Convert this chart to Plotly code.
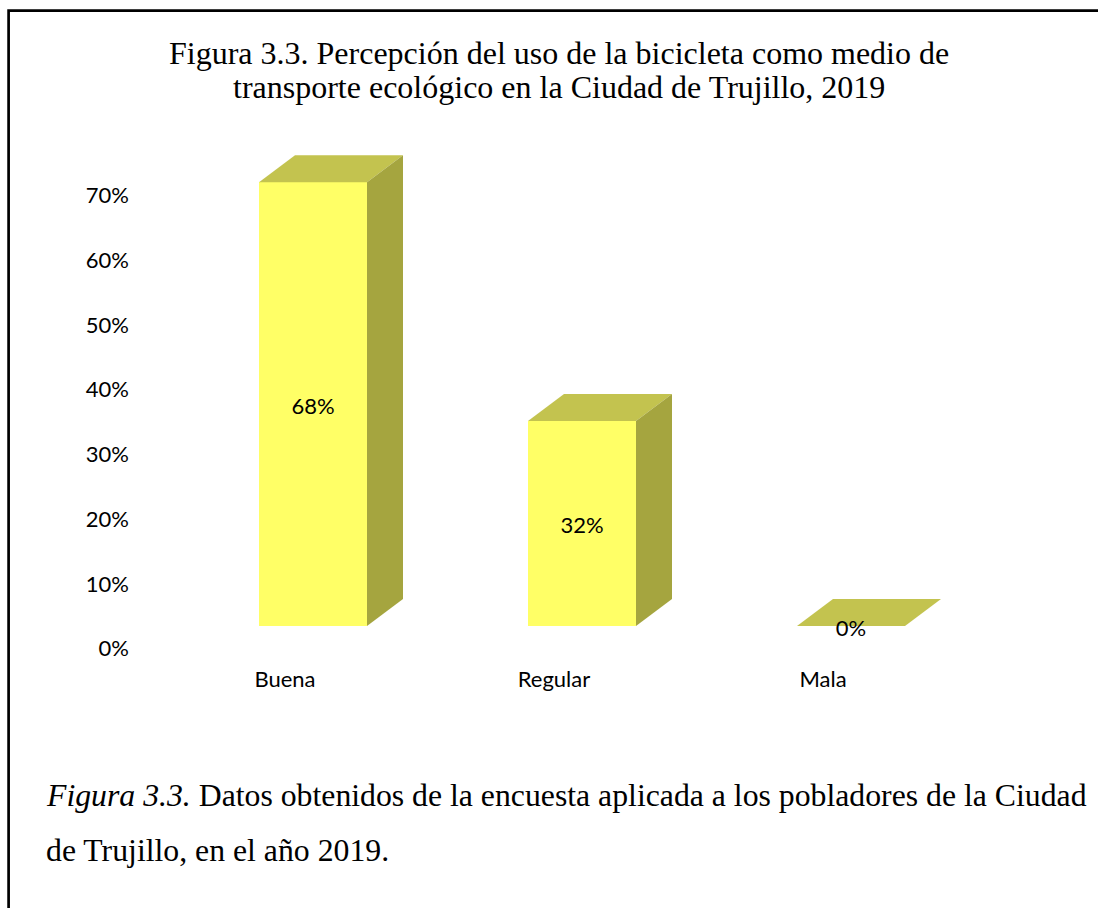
import plotly.graph_objects as go

# ---- data ----
categories = ["Buena", "Regular", "Mala"]
bar_heights = [68.6, 31.7, 0.0]          # height read against the axis
bar_labels = ["68%", "32%", "0%"]
axis_ticks = [0, 10, 20, 30, 40, 50, 60, 70]
axis_tick_labels = ["0%", "10%", "20%", "30%", "40%", "50%", "60%", "70%"]
title_lines = [
    "Figura 3.3. Percepción del uso de la bicicleta como medio de",
    "transporte ecológico en la Ciudad de Trujillo, 2019",
]
caption_lines = [
    "<i>Figura 3.3.</i> Datos obtenidos de la encuesta aplicada a los pobladores de la Ciudad",
    "de Trujillo, en el año 2019.",
]

# ---- layout constants ----
W, H = 1098, 908
CAT_PX = 269.0       # px between categories
X0_PX = 313.0        # px of first bar centre
BAR_PX = 108.0       # bar width
K = 6.47             # px per percentage point
BASE_PX = 626.0      # px of zero for bars
TICK_BASE_PX = 648.5 # px of zero for axis labels
DEPTH_X_PX, DEPTH_Y_PX = 36.0, 27.0
LABEL_DROP_PX = 4.5
FRONT, TOP, SIDE = "#FFFF66", "#C3C34F", "#A5A53F"
SERIF = "Liberation Serif"
SANS = "Lato"
TICK_SIZE = 22

positions = list(range(len(categories)))
half = BAR_PX / CAT_PX / 2
dx = DEPTH_X_PX / CAT_PX
dy = DEPTH_Y_PX / K


def px_x(p):
    return p / W


def px_y(p):
    return 1 - p / H


fig = go.Figure()

# front faces
fig.add_trace(go.Bar(
    x=positions, y=bar_heights, width=BAR_PX / CAT_PX,
    marker=dict(color=FRONT, line=dict(width=0)),
    showlegend=False, hoverinfo="skip",
))

# top and side faces, derived from the values
for p, h in zip(positions, bar_heights):
    l, r = p - half, p + half
    fig.add_trace(go.Scatter(
        x=[l, l + dx, r + dx, r, l], y=[h, h + dy, h + dy, h, h],
        mode="lines", fill="toself", fillcolor=TOP, line=dict(width=0),
        showlegend=False, hoverinfo="skip",
    ))
    if h > 0:
        fig.add_trace(go.Scatter(
            x=[r, r + dx, r + dx, r, r], y=[0, dy, h + dy, h, 0],
            mode="lines", fill="toself", fillcolor=SIDE, line=dict(width=0),
            showlegend=False, hoverinfo="skip",
        ))

# data labels
fig.add_trace(go.Scatter(
    x=positions, y=[h / 2 - LABEL_DROP_PX / K for h in bar_heights], mode="text",
    text=bar_labels, textposition="middle center",
    textfont=dict(family=SANS, size=TICK_SIZE, color="#000000"),
    showlegend=False, hoverinfo="skip", cliponaxis=False,
))

# invisible trace that carries the shifted value axis
fig.add_trace(go.Scatter(
    x=[positions[0]] * len(axis_ticks), y=axis_ticks, yaxis="y2",
    mode="markers", marker=dict(opacity=0),
    showlegend=False, hoverinfo="skip",
))

x_range = [-X0_PX / CAT_PX, (W - X0_PX) / CAT_PX]
label_shift = 28.0 / CAT_PX

fig.update_layout(
    width=W, height=H, autosize=False,
    margin=dict(l=0, r=0, t=0, b=0, pad=0),
    paper_bgcolor="white", plot_bgcolor="white",
    bargap=0, showlegend=False,
    xaxis=dict(
        domain=[0, 1], range=x_range, showgrid=False, zeroline=False, showline=False,
        tickmode="array", tickvals=[p - label_shift for p in positions], ticktext=categories,
        ticks="", tickfont=dict(family=SANS, size=TICK_SIZE, color="#000000"),
        anchor="free", position=px_y(664),
    ),
    yaxis=dict(
        domain=[0, 1], range=[(BASE_PX - H) / K, BASE_PX / K],
        showgrid=False, zeroline=False, showline=False, showticklabels=False, ticks="",
    ),
    yaxis2=dict(
        domain=[0, 1], range=[(TICK_BASE_PX - H) / K, TICK_BASE_PX / K],
        overlaying="y", anchor="free", position=px_x(129), side="left",
        showgrid=False, zeroline=False, showline=False, ticks="",
        tickmode="array", tickvals=axis_ticks, ticktext=axis_tick_labels,
        tickfont=dict(family=SANS, size=TICK_SIZE, color="#000000"),
    ),
    shapes=[dict(
        type="path", xref="paper", yref="paper",
        path=f"M {px_x(8.6)} {px_y(H)} L {px_x(8.6)} {px_y(10.6)} L 1 {px_y(10.6)}",
        line=dict(color="#000000", width=2.7),
    )],
    annotations=[
        dict(xref="paper", yref="paper", x=px_x(559), y=px_y(53), text=title_lines[0],
             showarrow=False, xanchor="center", yanchor="middle",
             font=dict(family=SERIF, size=32, color="#000000")),
        dict(xref="paper", yref="paper", x=px_x(559), y=px_y(87), text=title_lines[1],
             showarrow=False, xanchor="center", yanchor="middle",
             font=dict(family=SERIF, size=32, color="#000000")),
        dict(xref="paper", yref="paper", x=px_x(43.5), y=px_y(795), text=caption_lines[0],
             showarrow=False, xanchor="left", yanchor="middle",
             font=dict(family=SERIF, size=31.75, color="#000000")),
        dict(xref="paper", yref="paper", x=px_x(43.5), y=px_y(850), text=caption_lines[1],
             showarrow=False, xanchor="left", yanchor="middle",
             font=dict(family=SERIF, size=31.75, color="#000000")),
    ],
)

fig.write_html("out.html", config=dict(displayModeBar=False),
               post_script="document.body.style.margin='0';document.body.style.overflow='hidden';")
